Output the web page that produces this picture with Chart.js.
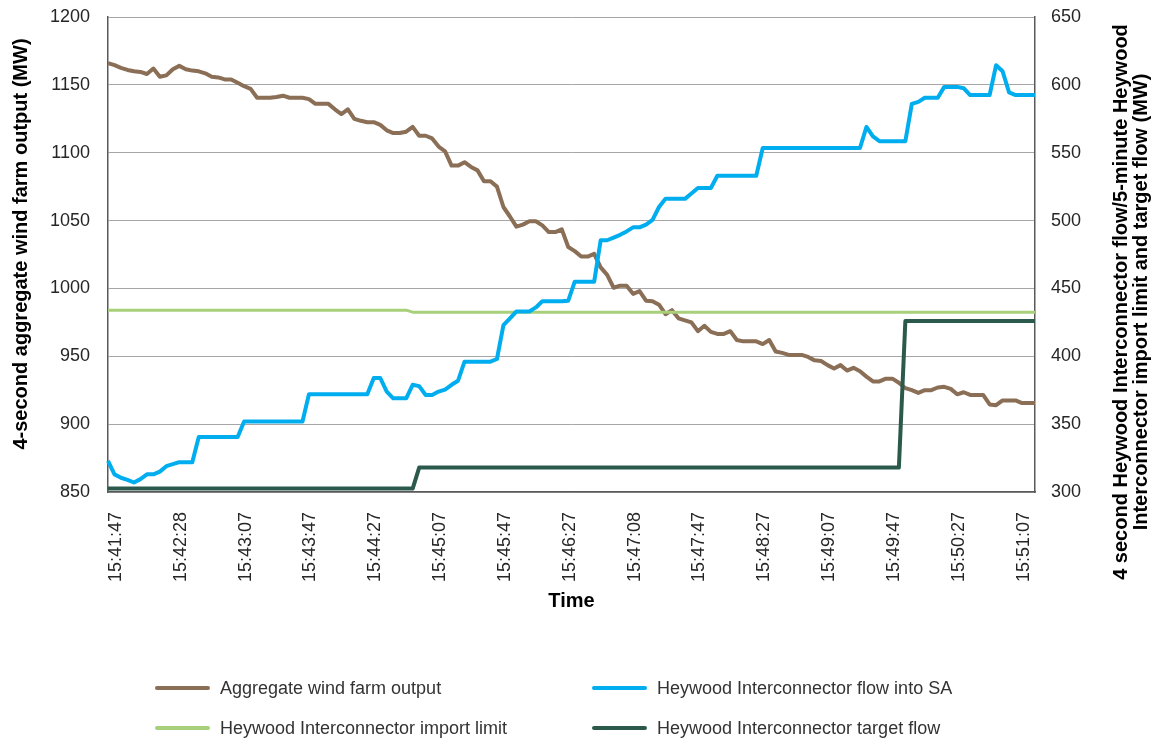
<!DOCTYPE html>
<html>
<head>
<meta charset="utf-8">
<title>Wind farm output and Heywood Interconnector flow</title>
<script src="https://cdn.jsdelivr.net/npm/chart.js@4.4.1/dist/chart.umd.min.js"></script>
<style>
  body { margin: 0; background: #fff; }
  #wrap { position: relative; width: 1160px; height: 743px; }
  #legend .item {
    position: absolute; height: 24px; display: flex; align-items: center;
    font: 18px "Liberation Sans", Arial, sans-serif; color: #333; white-space: nowrap;
  }
  #legend .swatch { width: 55px; height: 4px; margin-right: 10px; border-radius: 2px; }
</style>
</head>
<body>
<div id="wrap">
  <canvas id="myChart" width="1160" height="743"></canvas>
  <div id="legend"></div>
</div>
<script>
//////////////////////////////////// DATA (4-second samples)

// x axis tick labels, one every 10 samples
var tickLabels = ['15:41:47', '15:42:28', '15:43:07', '15:43:47', '15:44:27',
  '15:45:07', '15:45:47', '15:46:27', '15:47:08', '15:47:47',
  '15:48:27', '15:49:07', '15:49:47', '15:50:27', '15:51:07'];

// Aggregate wind farm output (MW) - left axis
var windOutput = [
  1166, 1164.5, 1162.5, 1161, 1160, 1159.5, 1158, 1162, 1156, 1157,
  1161.5, 1164, 1161.5, 1160.5, 1160, 1158.5, 1156, 1155.5, 1154, 1154,
  1151.5, 1149, 1147, 1140.5, 1140.5, 1140.5, 1141, 1142, 1140.5, 1140.5,
  1140.5, 1139.5, 1136, 1136, 1136, 1132, 1128.5, 1132, 1125, 1123.5,
  1122.5, 1122.5, 1120.5, 1116.5, 1114.5, 1114.5, 1115.5, 1119, 1112.5, 1112.5,
  1110.5, 1104.5, 1101, 1090.5, 1090.5, 1093, 1089.5, 1087, 1079, 1079,
  1075, 1060, 1053, 1045.5, 1047, 1049.5, 1049.5, 1046.5, 1041.5, 1041.5,
  1043.5, 1030.5, 1027.5, 1023.5, 1023.5, 1025.5, 1015.5, 1010, 1000.5, 1002,
  1002, 996, 998, 991, 990.5, 988, 981, 984, 978, 976.5,
  975, 968.5, 972.5, 968, 966.5, 966.5, 968.5, 962, 961, 961,
  961, 959, 962, 953.5, 952.5, 951, 951, 951, 949.5, 947,
  946.5, 943.5, 941, 943.5, 939.5, 941.5, 939, 935, 931.5, 931.5,
  933.5, 933.5, 930.5, 926.5, 925, 923, 925, 925, 927, 927.5,
  926, 922, 923.5, 921.5, 921.5, 921.5, 914.5, 914, 917.5, 917.5,
  917.5, 915.5, 915.5, 915.5
];

// Heywood Interconnector flow into SA (MW) - right axis
var heywoodFlow = [
  323, 313, 310.5, 309, 307, 309.5, 313, 313, 315, 319,
  320.5, 322, 322, 322, 340.5, 340.5, 340.5, 340.5, 340.5, 340.5,
  340.5, 352, 352, 352, 352, 352, 352, 352, 352, 352,
  352, 372, 372, 372, 372, 372, 372, 372, 372, 372,
  372, 384, 384, 374, 369, 369, 369, 379, 378, 371.5,
  371.5, 374, 375.5, 379, 382, 396, 396, 396, 396, 396,
  398, 423, 428, 433, 433, 433, 436, 440.5, 440.5, 440.5,
  440.5, 441, 455, 455, 455, 455, 485.5, 485.5, 487.5, 489.5,
  492, 495, 495, 497, 500.5, 510, 516, 516, 516, 516,
  520, 524, 524, 524, 533, 533, 533, 533, 533, 533,
  533, 553.5, 553.5, 553.5, 553.5, 553.5, 553.5, 553.5, 553.5, 553.5,
  553.5, 553.5, 553.5, 553.5, 553.5, 553.5, 553.5, 569, 562, 558.5,
  558.5, 558.5, 558.5, 558.5, 586, 587.5, 590.5, 590.5, 590.5, 598.5,
  598.5, 598.5, 597.5, 592.5, 592.5, 592.5, 592.5, 614.5, 610, 594.5,
  592.5, 592.5, 592.5, 592.5
];

// Heywood Interconnector import limit (MW) - right axis
var importLimit = [
  434, 434, 434, 434, 434, 434, 434, 434, 434, 434,
  434, 434, 434, 434, 434, 434, 434, 434, 434, 434,
  434, 434, 434, 434, 434, 434, 434, 434, 434, 434,
  434, 434, 434, 434, 434, 434, 434, 434, 434, 434,
  434, 434, 434, 434, 434, 434, 434, 432.5, 432.5, 432.5,
  432.5, 432.5, 432.5, 432.5, 432.5, 432.5, 432.5, 432.5, 432.5, 432.5,
  432.5, 432.5, 432.5, 432.5, 432.5, 432.5, 432.5, 432.5, 432.5, 432.5,
  432.5, 432.5, 432.5, 432.5, 432.5, 432.5, 432.5, 432.5, 432.5, 432.5,
  432.5, 432.5, 432.5, 432.5, 432.5, 432.5, 432.5, 432.5, 432.5, 432.5,
  432.5, 432.5, 432.5, 432.5, 432.5, 432.5, 432.5, 432.5, 432.5, 432.5,
  432.5, 432.5, 432.5, 432.5, 432.5, 432.5, 432.5, 432.5, 432.5, 432.5,
  432.5, 432.5, 432.5, 432.5, 432.5, 432.5, 432.5, 432.5, 432.5, 432.5,
  432.5, 432.5, 432.5, 432.5, 432.5, 432.5, 432.5, 432.5, 432.5, 432.5,
  432.5, 432.5, 432.5, 432.5, 432.5, 432.5, 432.5, 432.5, 432.5, 432.5,
  432.5, 432.5, 432.5, 432.5
];

// Heywood Interconnector target flow (MW) - right axis
var targetFlow = [
  302.5, 302.5, 302.5, 302.5, 302.5, 302.5, 302.5, 302.5, 302.5, 302.5,
  302.5, 302.5, 302.5, 302.5, 302.5, 302.5, 302.5, 302.5, 302.5, 302.5,
  302.5, 302.5, 302.5, 302.5, 302.5, 302.5, 302.5, 302.5, 302.5, 302.5,
  302.5, 302.5, 302.5, 302.5, 302.5, 302.5, 302.5, 302.5, 302.5, 302.5,
  302.5, 302.5, 302.5, 302.5, 302.5, 302.5, 302.5, 302.5, 318, 318,
  318, 318, 318, 318, 318, 318, 318, 318, 318, 318,
  318, 318, 318, 318, 318, 318, 318, 318, 318, 318,
  318, 318, 318, 318, 318, 318, 318, 318, 318, 318,
  318, 318, 318, 318, 318, 318, 318, 318, 318, 318,
  318, 318, 318, 318, 318, 318, 318, 318, 318, 318,
  318, 318, 318, 318, 318, 318, 318, 318, 318, 318,
  318, 318, 318, 318, 318, 318, 318, 318, 318, 318,
  318, 318, 318, 426, 426, 426, 426, 426, 426, 426,
  426, 426, 426, 426, 426, 426, 426, 426, 426, 426,
  426, 426, 426, 426
];

// sample index along the x axis
var samples = windOutput.map(function (v, i) { return i; });

// Axis titles
var leftTitle = '4-second aggregate wind farm output (MW)';
var rightTitle = ['4 second Heywood Interconnector flow/5-minute Heywood',
  'Interconnector import limit and target flow (MW)'];
var xTitle = 'Time';

//////////////////////////////////// Setup Chart

var FONT = '"Liberation Sans", Arial, sans-serif';
var tickFont = { family: FONT, size: 18 };
var tickColor = '#262626';
var axisColor = '#595959';

// plain numbers on the value axes (no thousands separator)
function plainTick(value) { return String(value); }

// fixed axis width; drop the label overflow padding so layout.padding sets the plot top
function fixWidth(w) {
  return function (scale) {
    scale.width = w;
    scale.paddingTop = 0;
    scale.paddingBottom = 0;
  };
}

// draws the two vertical axis titles (right one sits lower than the plot centre)
const yTitlesPlugin = {
  id: 'yTitles',
  afterDraw(chart) {
    const ctx = chart.ctx;
    const area = chart.chartArea;
    ctx.save();
    ctx.fillStyle = '#000';
    ctx.font = 'bold 20px ' + FONT;
    ctx.textAlign = 'center';
    ctx.textBaseline = 'middle';

    ctx.save();
    ctx.translate(21, area.top + 227);
    ctx.rotate(-Math.PI / 2);
    ctx.fillText(leftTitle, 0, 0);
    ctx.restore();

    rightTitle.forEach(function (line, k) {
      ctx.save();
      ctx.translate(area.right + 86 + k * 20, area.top + 285);
      ctx.rotate(-Math.PI / 2);
      ctx.fillText(line, 0, 0);
      ctx.restore();
    });
    ctx.restore();
  }
};

const data = {
  labels: samples,
  datasets: [
    {
      label: 'Aggregate wind farm output',
      data: windOutput,
      yAxisID: 'y',
      borderColor: '#8a6e55',
      borderWidth: 4,
      order: 4,
    },
    {
      label: 'Heywood Interconnector flow into SA',
      data: heywoodFlow,
      yAxisID: 'y1',
      borderColor: '#00aeef',
      borderWidth: 4,
      order: 2,
    },
    {
      label: 'Heywood Interconnector import limit',
      data: importLimit,
      yAxisID: 'y1',
      borderColor: '#a8d07a',
      borderWidth: 3,
      order: 3,
    },
    {
      label: 'Heywood Interconnector target flow',
      data: targetFlow,
      yAxisID: 'y1',
      borderColor: '#2b5a4c',
      borderWidth: 4,
      order: 1,
    },
  ],
};

const config = {
  type: 'line',
  data,
  options: {
    responsive: false,
    animation: false,
    layout: { padding: { top: 17, right: 0, bottom: 121, left: 0 } },
    elements: {
      point: { radius: 0 },
      line: { tension: 0, fill: false, borderJoinStyle: 'round', borderCapStyle: 'butt' },
    },
    scales: {
      x: {
        type: 'category',
        grid: { display: false, drawTicks: false },
        border: { display: true, color: axisColor, width: 1.5 },
        ticks: {
          autoSkip: false,
          minRotation: 90,
          maxRotation: 90,
          padding: 20,
          labelOffset: 8,
          color: tickColor,
          font: tickFont,
          callback: function (value, index) {
            return index % 10 === 0 ? tickLabels[index / 10] : '';
          },
        },
        title: {
          display: true,
          text: xTitle,
          color: '#000',
          font: { family: FONT, size: 20, weight: 'bold' },
          padding: { top: 0, bottom: 9 },
        },
        afterFit: function (scale) { scale.height = 130; },
      },
      y: {
        position: 'left',
        min: 850,
        max: 1200,
        ticks: { stepSize: 50, padding: 18, color: tickColor, font: tickFont, callback: plainTick },
        grid: { color: '#a6a6a6', lineWidth: 1, drawTicks: false },
        border: { display: true, color: axisColor, width: 1.5 },
        afterFit: fixWidth(108),
      },
      y1: {
        position: 'right',
        min: 300,
        max: 650,
        ticks: { stepSize: 50, padding: 16, color: tickColor, font: tickFont, callback: plainTick },
        grid: { display: false, drawTicks: false },
        border: { display: true, color: axisColor, width: 1.5 },
        afterFit: fixWidth(125),
      },
    },
    plugins: {
      legend: { display: false },
      tooltip: { enabled: false },
    },
  },
  plugins: [yTitlesPlugin],
};

var myChart = new Chart(document.getElementById('myChart'), config);

// HTML legend, 2 x 2 grid, built from the chart's datasets
var legendSlots = [[155, 676], [592, 676], [155, 716], [592, 716]];
var legendEl = document.getElementById('legend');
myChart.data.datasets.forEach(function (ds, i) {
  var item = document.createElement('div');
  item.className = 'item';
  item.style.left = legendSlots[i][0] + 'px';
  item.style.top = legendSlots[i][1] + 'px';
  var sw = document.createElement('span');
  sw.className = 'swatch';
  sw.style.background = ds.borderColor;
  item.appendChild(sw);
  item.appendChild(document.createTextNode(ds.label));
  legendEl.appendChild(item);
});
</script>
</body>
</html>
